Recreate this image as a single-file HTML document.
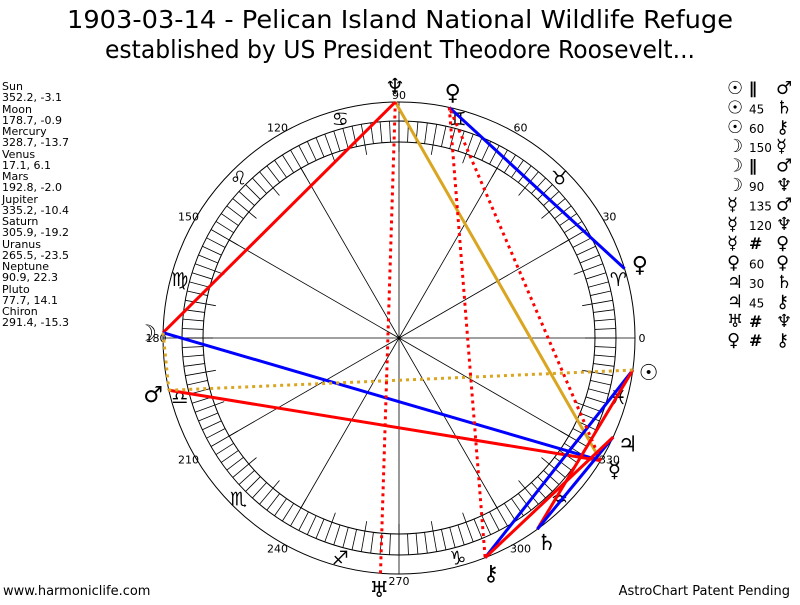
<!DOCTYPE html>
<html><head><meta charset="utf-8"><style>
body{margin:0;background:#fff;width:800px;height:600px;overflow:hidden}
svg text{font-family:"DejaVu Sans","Liberation Sans",sans-serif}
</style></head><body>
<svg width="800" height="600" xmlns="http://www.w3.org/2000/svg">
<text x="400" y="28" font-size="25" text-anchor="middle" textLength="666" lengthAdjust="spacingAndGlyphs">1903-03-14 - Pelican Island National Wildlife Refuge</text>
<text x="400" y="58" font-size="25" text-anchor="middle" textLength="590" lengthAdjust="spacingAndGlyphs">established by US President Theodore Roosevelt...</text>
<g font-size="11" fill="#000">
<text x="2" y="90">Sun</text><text x="2" y="101">352.2, -3.1</text>
<text x="2" y="113">Moon</text><text x="2" y="124">178.7, -0.9</text>
<text x="2" y="135">Mercury</text><text x="2" y="146">328.7, -13.7</text>
<text x="2" y="158">Venus</text><text x="2" y="169">17.1, 6.1</text>
<text x="2" y="180">Mars</text><text x="2" y="191">192.8, -2.0</text>
<text x="2" y="203">Jupiter</text><text x="2" y="214">335.2, -10.4</text>
<text x="2" y="225">Saturn</text><text x="2" y="236">305.9, -19.2</text>
<text x="2" y="248">Uranus</text><text x="2" y="259">265.5, -23.5</text>
<text x="2" y="270">Neptune</text><text x="2" y="281">90.9, 22.3</text>
<text x="2" y="293">Pluto</text><text x="2" y="304">77.7, 14.1</text>
<text x="2" y="315">Chiron</text><text x="2" y="326">291.4, -15.3</text>
</g>
<text x="3" y="595" font-size="13">www.harmoniclife.com</text>
<text x="790" y="595" font-size="13" text-anchor="end">AstroChart Patent Pending</text>
<g font-family="DejaVu Sans" font-size="18" fill="#000" id="asp"></g>
<g id="chart" stroke="#000" fill="none"></g>
<script>
var cx=399,cy=338,NS="http://www.w3.org/2000/svg";
function P(a,r){var t=a*Math.PI/180;return [cx+r*Math.cos(t),cy-r*Math.sin(t)];}
function el(n,at,p,txt){var e=document.createElementNS(NS,n);for(var k in at)e.setAttribute(k,at[k]);if(txt!=null)e.textContent=txt;(p||document.getElementById('chart')).appendChild(e);return e;}
el('circle',{cx:cx,cy:cy,r:236,'stroke-width':1});
el('circle',{cx:cx,cy:cy,r:217,'stroke-width':1});
el('circle',{cx:cx,cy:cy,r:196,'stroke-width':1});
for(var a=0;a<360;a+=2.5){var r1=(a%10==0)?186:196;var p=P(a,r1),q=P(a,217);el('line',{x1:p[0],y1:p[1],x2:q[0],y2:q[1],'stroke-width':0.8});}
for(var a=0;a<360;a+=30){var r=(a%90==0)?236:196;var q=P(a,r);el('line',{x1:cx,y1:cy,x2:q[0],y2:q[1],'stroke-width':0.8});}
var tg=el('g',{fill:'#000',stroke:'none','font-size':'11'});
for(var a=0;a<360;a+=30){var p=P(a,243);el('text',{x:p[0],y:p[1]+4,'text-anchor':'middle'},tg,String(a));}
var signs=['♈','♉','♊','♋','♌','♍','♎','♏','♐','♑','♒','♓'];
var sg=el('g',{fill:'#000',stroke:'none','font-size':'19','font-family':'DejaVu Sans'});
for(var i=0;i<12;i++){var p=P(15+30*i,227);el('text',{x:p[0],y:p[1]+7,'text-anchor':'middle'},sg,signs[i]);}
var pl={Su:352.2,Mo:178.7,Me:328.7,Ve:17.1,Ma:192.8,Ju:335.2,Sa:305.9,Ur:265.5,Ne:90.9,Pl:77.7,Ch:291.4};
var gl={Su:'☉',Mo:'☽',Me:'☿',Ve:'♀',Ma:'♂',Ju:'♃',Sa:'♄',Ur:'♅',Ne:'♆',Pl:'♀',Ch:'⚷'};
var lines=[['Mo','Ne','red',0],['Ne','Me','#daa520',0],['Ve','Pl','blue',0],['Mo','Me','blue',0],['Ma','Me','red',0],['Su','Ch','blue',0],['Su','Sa','red',0],['Ju','Sa','blue',0],['Ju','Ch','red',0],['Su','Ma','#daa520',1],['Mo','Ma','#daa520',1],['Me','Pl','red',1],['Ur','Ne','red',1],['Pl','Ch','red',1]];
lines.forEach(function(l){var p=P(pl[l[0]],236),q=P(pl[l[1]],236);var at={x1:p[0],y1:p[1],x2:q[0],y2:q[1],stroke:l[2],'stroke-width':3};if(l[3])at['stroke-dasharray']='3,4';el('line',at);});
var pg=el('g',{fill:'#000',stroke:'none','font-size':'22','font-family':'DejaVu Sans'});
for(var k in pl){var p=P(pl[k],252);el('text',{x:p[0],y:p[1]+8,'text-anchor':'middle'},pg,gl[k]);}
var asp=[['☉','∥','♂'],['☉','45','♄'],['☉','60','⚷'],['☽','150','☿'],['☽','∥','♂'],['☽','90','♆'],['☿','135','♂'],['☿','120','♆'],['☿','#','♀'],['♀','60','♀'],['♃','30','♄'],['♃','45','⚷'],['♅','#','♆'],['♀','#','⚷']];
var ag=document.getElementById('asp');
asp.forEach(function(a,i){var y=94+19.4*i;el('text',{x:727,y:y},ag,a[0]);el('text',{x:749,y:y,'font-size':(a[1].length>1?'12':'16'),'font-weight':(a[1].length>1?'normal':'bold')},ag,a[1]);el('text',{x:776,y:y},ag,a[2]);});
</script>
</svg>
</body></html>
